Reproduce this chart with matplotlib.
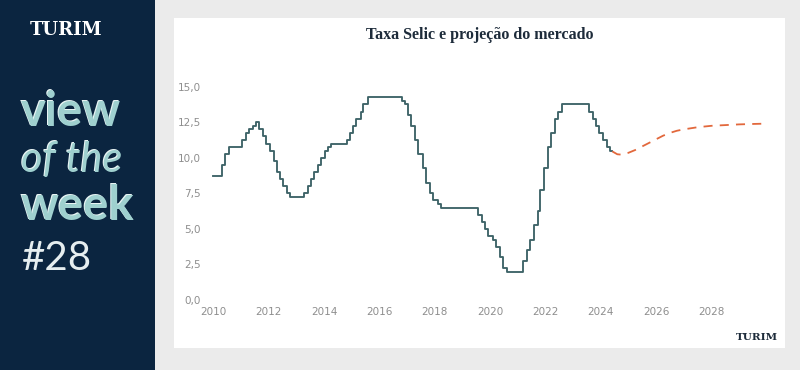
import pandas as pd
import matplotlib.pyplot as plt
import matplotlib.transforms as mtransforms
from matplotlib.patches import Rectangle

# Selic target rate: change dates and new levels (% a.a.)
selic_dates = [
    "2010-01-01", "2010-04-29", "2010-06-10", "2010-07-22", "2011-01-20", "2011-03-03",
    "2011-04-21", "2011-06-09", "2011-07-21", "2011-09-01", "2011-10-20", "2011-12-01",
    "2012-01-19", "2012-03-08", "2012-04-19", "2012-05-31", "2012-07-12", "2012-08-30",
    "2012-10-11", "2013-04-18", "2013-05-30", "2013-07-11", "2013-08-29", "2013-10-10",
    "2013-11-28", "2014-01-16", "2014-02-27", "2014-04-03", "2014-10-30", "2014-12-04",
    "2015-01-22", "2015-03-05", "2015-04-30", "2015-06-04", "2015-07-30", "2016-10-20",
    "2016-12-01", "2017-01-12", "2017-02-23", "2017-04-13", "2017-06-01", "2017-07-27",
    "2017-09-07", "2017-10-26", "2017-12-07", "2018-02-08", "2018-03-22", "2019-08-01",
    "2019-09-19", "2019-10-31", "2019-12-12", "2020-02-06", "2020-03-19", "2020-05-07",
    "2020-06-18", "2020-08-06", "2021-03-18", "2021-05-06", "2021-06-17", "2021-08-05",
    "2021-09-23", "2021-10-28", "2021-12-09", "2022-02-03", "2022-03-17", "2022-05-05",
    "2022-06-16", "2022-08-04", "2023-08-03", "2023-09-21", "2023-11-02", "2023-12-14",
    "2024-02-01", "2024-03-21", "2024-05-09", "2024-06-01",
]
selic_values = [
    8.75, 9.50, 10.25, 10.75, 11.25, 11.75,
    12.00, 12.25, 12.50, 12.00, 11.50, 11.00,
    10.50, 9.75, 9.00, 8.50, 8.00, 7.50,
    7.25, 7.50, 8.00, 8.50, 9.00, 9.50,
    10.00, 10.50, 10.75, 11.00, 11.25, 11.75,
    12.25, 12.75, 13.25, 13.75, 14.25, 14.00,
    13.75, 13.00, 12.25, 11.25, 10.25, 9.25,
    8.25, 7.50, 7.00, 6.75, 6.50, 6.00,
    5.50, 5.00, 4.50, 4.25, 3.75, 3.00,
    2.25, 2.00, 2.75, 3.50, 4.25, 5.25,
    6.25, 7.75, 9.25, 10.75, 11.75, 12.75,
    13.25, 13.75, 13.25, 12.75, 12.25, 11.75,
    11.25, 10.75, 10.50, 10.50,
]

# Market projection (Focus)
proj_years = [2024.42, 2024.6, 2024.75, 2025.0, 2025.25, 2025.5, 2025.75, 2026.0,
              2026.25, 2026.5, 2026.75, 2027.0, 2027.5, 2028.0, 2028.5, 2029.0, 2029.5, 2029.9]
proj_values = [10.45, 10.25, 10.22, 10.35, 10.55, 10.8, 11.05, 11.3,
               11.55, 11.75, 11.9, 12.0, 12.15, 12.25, 12.3, 12.35, 12.38, 12.4]

x_ticks = [2010, 2012, 2014, 2016, 2018, 2020, 2022, 2024, 2026, 2028]
y_ticks = [0, 2.5, 5, 7.5, 10, 12.5, 15]

d = pd.to_datetime(selic_dates)
selic_x = d.year + (d.dayofyear - 1) / 365.25

W, H = 800, 370
fig = plt.figure(figsize=(8, 3.7), dpi=100)
fig.patch.set_facecolor("#ebebeb")

# white card + navy side panel
fig.patches.append(Rectangle((174 / W, 1 - 348 / H), (785 - 174) / W, (348 - 18) / H,
                             transform=fig.transFigure, facecolor="white", edgecolor="none", zorder=-10))
fig.patches.append(Rectangle((0, 0), 155 / W, 1, transform=fig.transFigure,
                             facecolor="#0b2540", edgecolor="none", zorder=-10))

ax = fig.add_axes([205 / W, 70 / H, 570 / W, (290.4 - 70) / H])
ax.set_facecolor("none")
ax.step(selic_x, selic_values, where="post", color="#3e6468", lw=1.35)
ax.plot(proj_years, proj_values, color="#e2683c", lw=1.3, ls=(0, (5, 4)))
ax.set_xlim(2009.7, 2030.3)
ax.set_ylim(0, 15.5)
ax.set_xticks(x_ticks)
ax.set_xticklabels([str(t) for t in x_ticks])
ax.set_yticks(y_ticks)
ax.set_yticklabels([f"{v:.1f}".replace(".", ",") for v in y_ticks])
ax.tick_params(length=0, labelsize=7.5, labelcolor="#8e8e8e", pad=3)
ax.tick_params(axis="x", pad=5)
for s in ax.spines.values():
    s.set_visible(False)

fig.text(480 / W, 1 - 35 / H, "Taxa Selic e projeção do mercado", ha="center", va="center",
         fontsize=11.5, fontweight="bold", color="#1d2b3a", family="Liberation Serif")

# side panel texts
fig.text(66 / W, 1 - 30 / H, "TURIM", ha="center", va="center", fontsize=13,
         fontweight="bold", color="white", family="DejaVu Serif")

hl = mtransforms.offset_copy(fig.transFigure, fig=fig, x=-1.2, y=0.9, units="dots")
for txt, yy, fs, st, fw in [("view", 112, 34, "normal", "bold"),
                            ("of the", 160, 30, "italic", "normal"),
                            ("week", 206, 34, "normal", "bold")]:
    fig.text(21 / W, 1 - yy / H, txt, ha="left", va="center", fontsize=fs, style=st,
             fontweight=fw, color="#e8f4f4", family="Lato", transform=hl)
    fig.text(21 / W, 1 - yy / H, txt, ha="left", va="center", fontsize=fs, style=st,
             fontweight=fw, color="#9fd0cf", family="Lato")
fig.text(22 / W, 1 - 258 / H, "#28", ha="left", va="center", fontsize=29,
         color="#e6eef0", family="Lato")

fig.text(757 / W, 1 - 337 / H, "TURIM", ha="center", va="center", fontsize=7.5,
         fontweight="bold", color="#1d2b3a", family="DejaVu Serif")

fig.savefig("out.png", dpi=100)
